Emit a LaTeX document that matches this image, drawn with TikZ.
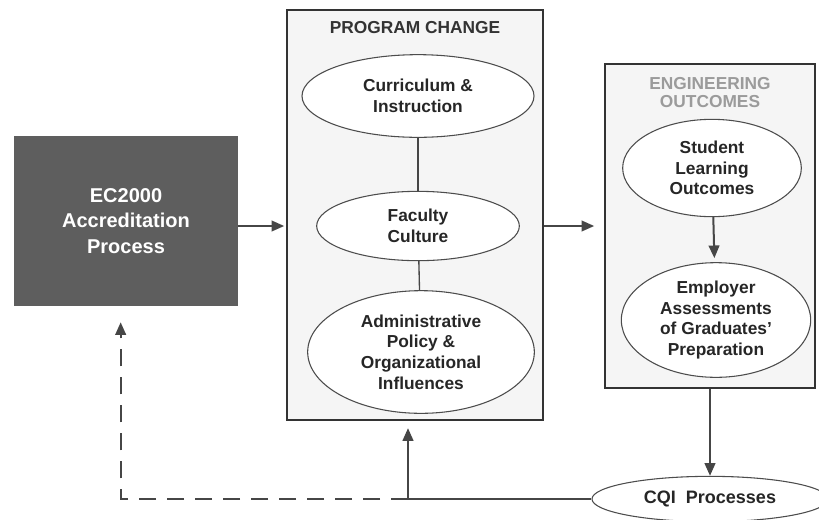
\documentclass[tikz,border=0pt]{standalone}
\usepackage{fontspec}
\setmainfont{Liberation Sans}
\usepackage{tikz}
\usetikzlibrary{arrows.meta, shapes.geometric}
\definecolor{darkbox}{RGB}{94,94,94}
\definecolor{panelgray}{RGB}{245,245,245}
\definecolor{linegray}{RGB}{70,70,70}
\definecolor{titlegray}{RGB}{155,155,155}

\begin{document}
\begin{tikzpicture}[x=0.75pt, y=-0.75pt,
  panel/.style={draw=black!80, line width=2.2pt, fill=panelgray, minimum width=#1},
  oval/.style={ellipse, draw=black!70, line width=0.8pt, fill=white, inner sep=0pt, align=center, text=black!85,
    font=\fontsize{13}{15.5}\selectfont\bfseries},
  arr/.style={-{Triangle[length=9.5pt, width=8pt]}, line width=1.5pt, color=linegray}]
  \useasboundingbox (0,0) rectangle (819,519);
  % left source box
  \node[fill=darkbox, minimum width=168pt, minimum height=127.5pt, align=center, text=white,
    font=\fontsize{15}{19}\selectfont\bfseries] (ec) at (126,221) {EC2000\\Accreditation\\Process};
  % program change panel
  \node[panel=192pt, minimum height=307.5pt] (prog) at (415,215) {};
  \node[font=\fontsize{13}{15}\selectfont\bfseries, text=black!80] (progt) at (415,28) {PROGRAM CHANGE};
  \node[oval, minimum width=174pt, minimum height=62pt] (curr) at (418,96) {Curriculum \&\\Instruction};
  \node[oval, minimum width=152pt, minimum height=52pt] (fac) at (418,226) {Faculty\\Culture};
  \node[oval, minimum width=170pt, minimum height=92pt] (adm) at (421,352) {Administrative\\Policy \&\\Organizational\\Influences};
  \draw[line width=1pt, linegray] (curr) -- (fac);
  \draw[line width=1pt, linegray] (fac) -- (adm);
  % outcomes panel
  \node[panel=157.5pt, minimum height=243pt] (outc) at (710,226) {};
  \node[font=\fontsize{13}{14}\selectfont\bfseries, text=titlegray, align=center] (outct) at (710,92.5) {ENGINEERING\\OUTCOMES};
  \node[oval, minimum width=134pt, minimum height=73pt] (slo) at (712,168) {Student\\Learning\\Outcomes};
  \node[oval, minimum width=142pt, minimum height=86pt] (emp) at (716,320) {Employer\\Assessments\\of Graduates'\\Preparation};
  \node[oval, minimum width=177pt, minimum height=34pt, font=\fontsize{13.5}{15}\selectfont\bfseries] (cqi) at (710,499) {CQI\ \ Processes};
  \coordinate (fb) at (408,499);
  % connectors
  \draw[arr, shorten >=1pt] (ec.east |- fac) -- (fac -| prog.west);
  \draw[arr, shorten >=7pt] (fac -| prog.east) -- (fac -| outc.west);
  \draw[arr, shorten >=3pt] (slo) -- (emp);
  \draw[arr] (outc.south) -- (cqi);
  \draw[arr, shorten >=5pt] (cqi) -- (fb) -- (fb |- prog.south);
  \draw[arr, dash pattern=on 13pt off 8pt, shorten >=12pt] (fb) -| ([xshift=-4pt]ec.south);
\end{tikzpicture}
\end{document}
